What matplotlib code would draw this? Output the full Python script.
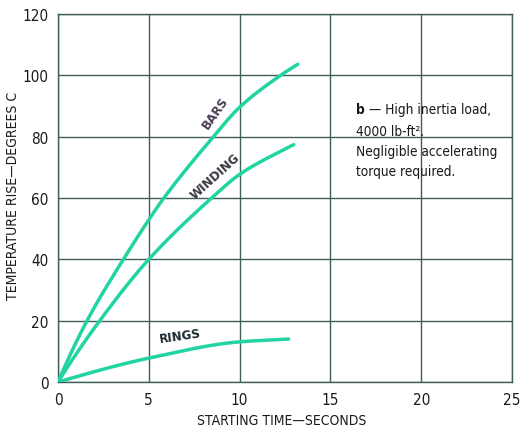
import matplotlib
matplotlib.use("Agg")
import matplotlib.pyplot as plt
import numpy as np

plt.rcParams['font.family'] = ["DejaVu Sans"]
plt.rcParams['font.stretch'] = 'condensed'

# Data
bars_x = [0, 1.6, 3.6, 5.0, 5.83, 8.56, 10.0, 12.26, 13.2]
bars_y = [0, 20, 40, 52.9, 60, 80, 89.6, 100, 103.6]
winding_x = [0, 2.3, 5.0, 8.46, 10.0, 12.98]
winding_y = [0, 20, 40, 60, 67.7, 77.4]
rings_x = [0, 5.0, 10.0, 12.7]
rings_y = [0, 7.8, 13.1, 14]
x_ticks = [0, 5, 10, 15, 20, 25]
y_ticks = [0, 20, 40, 60, 80, 100, 120]

CURVE = "#22d4a2"
GRID = "#3f5f57"
TXT = "#1a1a1a"


def pchip(xs, ys, n=200):
    # monotone cubic rendering through the read points
    x = np.asarray(xs, float)
    y = np.asarray(ys, float)
    h = np.diff(x)
    d = np.diff(y) / h
    m = np.zeros_like(x)
    for k in range(1, len(x) - 1):
        if d[k - 1] * d[k] > 0:
            w1 = 2 * h[k] + h[k - 1]
            w2 = h[k] + 2 * h[k - 1]
            m[k] = (w1 + w2) / (w1 / d[k - 1] + w2 / d[k])
    m[0] = d[0] * 1.1
    m[-1] = d[-1] * 0.95
    xx = np.linspace(x[0], x[-1], n)
    idx = np.clip(np.searchsorted(x, xx) - 1, 0, len(x) - 2)
    t = (xx - x[idx]) / h[idx]
    h00 = 2 * t**3 - 3 * t**2 + 1
    h10 = t**3 - 2 * t**2 + t
    h01 = -2 * t**3 + 3 * t**2
    h11 = t**3 - t**2
    yy = h00 * y[idx] + h10 * h[idx] * m[idx] + h01 * y[idx + 1] + h11 * h[idx] * m[idx + 1]
    return xx, yy


fig = plt.figure(figsize=(5.23, 4.31), dpi=100)
ax = fig.add_axes([58/523, 48/431, (512-58)/523, (383-15)/431])

for xs, ys in [(bars_x, bars_y), (winding_x, winding_y), (rings_x, rings_y)]:
    sx, sy = pchip(xs, ys)
    ax.plot(sx, sy, color=CURVE, lw=2.5, solid_capstyle='round', zorder=3)

ax.set_xlim(0, 25)
ax.set_ylim(0, 120)
ax.set_xticks(x_ticks)
ax.set_yticks(y_ticks)
ax.grid(True, color=GRID, lw=1.0)
for s in ax.spines.values():
    s.set_color(GRID)
    s.set_linewidth(1.0)
ax.tick_params(length=0, pad=7, labelsize=11, colors=TXT)
ax.set_xticklabels([str(t) for t in x_ticks])
ax.set_yticklabels([str(t) for t in y_ticks])

ax.set_xlabel("STARTING TIME\u2014SECONDS", fontsize=10, color=TXT)
ax.set_ylabel("TEMPERATURE RISE\u2014DEGREES C", fontsize=10, color=TXT)
ax.xaxis.set_label_coords((282-58)/454, -(414-383)/368)
ax.yaxis.set_label_coords(-(58-20)/454, (383-196)/368)

ax.text(8.65, 88, "BARS", rotation=55, fontsize=9.5, color="#4a3d55",
        fontweight='bold', ha='center', va='center')
ax.text(8.65, 67.2, "WINDING", rotation=42, fontsize=9.5, color="#3a3a42",
        fontweight='bold', ha='center', va='center')
ax.text(6.7, 15.2, "RINGS", rotation=8, fontsize=9.5, color="#1e2a30",
        fontweight='bold', ha='center', va='center')

fs = 9.8
bt = ax.text(16.4, 89, "b", fontsize=fs, fontweight='bold', color=TXT, va='center')
ax.annotate(" \u2014 High inertia load,", xy=(1, 0.5), xycoords=bt, fontsize=fs,
            color=TXT, va='center', ha='left')
ax.text(16.4, 81.8, "4000 lb-ft\u00b2.", fontsize=fs, color=TXT, va='center')
ax.text(16.4, 75.3, "Negligible accelerating", fontsize=fs, color=TXT, va='center')
ax.text(16.4, 68.8, "torque required.", fontsize=fs, color=TXT, va='center')

fig.savefig("out.png", dpi=100)
